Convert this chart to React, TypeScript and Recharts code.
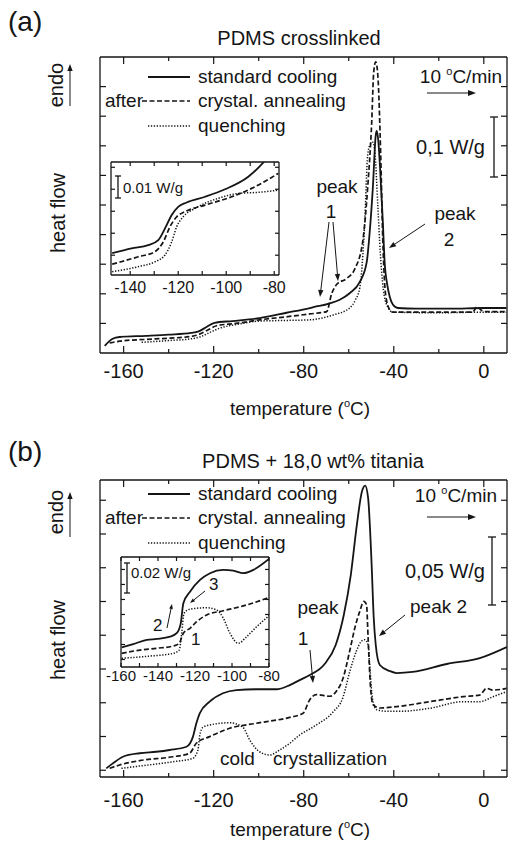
import { ComposedChart, Line, XAxis, YAxis } from "recharts";

// DSC heating scans (10 °C/min) of crosslinked PDMS and of PDMS + 18 wt% titania.
// Every series is [temperature °C, heat flow W/g, shifted for display].

const INK = "#151515";
const FONT = "'Liberation Sans', Arial, Helvetica, sans-serif";

type Row = [number, number];

// ---- panel (a): PDMS crosslinked ----
const aStandard: Row[] = [
  [-168.4, 0.012], [-164.9, 0.024], [-161.8, 0.027], [-150, 0.029], [-140, 0.031],
  [-130, 0.034], [-127, 0.036], [-124, 0.042], [-119.6, 0.051], [-111.6, 0.054],
  [-99.6, 0.059], [-87.6, 0.068], [-77.3, 0.076], [-74, 0.079], [-72.5, 0.08],
  [-68.4, 0.084], [-64, 0.09], [-59.6, 0.101], [-55.1, 0.12], [-52, 0.154],
  [-50.7, 0.204], [-49.3, 0.279], [-48, 0.368], [-47.6, 0.375], [-46.9, 0.36],
  [-46.2, 0.32], [-44.9, 0.225], [-44, 0.15], [-43.1, 0.12], [-41.8, 0.095],
  [-40.4, 0.082], [-38.2, 0.076], [-30, 0.075], [-15, 0.075], [0, 0.076], [10, 0.076],
];
const aAnnealed: Row[] = [
  [-166.2, 0.017], [-161.8, 0.02], [-150, 0.023], [-140, 0.025], [-130, 0.028],
  [-127.6, 0.03], [-123, 0.038], [-118.7, 0.046], [-110, 0.05], [-99.6, 0.056],
  [-88, 0.061], [-77.3, 0.066], [-69.8, 0.07], [-67.6, 0.1], [-65.3, 0.116],
  [-60.9, 0.126], [-57.3, 0.142], [-53.8, 0.188], [-51.6, 0.279], [-49.8, 0.39],
  [-48.9, 0.475], [-48, 0.492], [-47.1, 0.47], [-45.8, 0.334], [-44.9, 0.194],
  [-43.6, 0.098], [-41.8, 0.073], [-40.4, 0.069], [-20, 0.069], [-5, 0.069],
  [-3, 0.078], [-1, 0.072], [1, 0.07], [10, 0.07],
];
const aQuenched: Row[] = [
  [-152, 0.018], [-140, 0.021], [-130, 0.024], [-126.2, 0.027], [-121, 0.036],
  [-117.3, 0.042], [-110, 0.048], [-99.6, 0.054], [-88, 0.055], [-77.3, 0.056],
  [-67.1, 0.064], [-59.6, 0.076], [-57, 0.09], [-55.1, 0.11], [-52.9, 0.221],
  [-51.6, 0.334], [-50.5, 0.352], [-49.3, 0.356], [-48.4, 0.34], [-47.1, 0.25],
  [-46, 0.17], [-45, 0.12], [-43.5, 0.085], [-40.4, 0.069], [-20, 0.068], [0, 0.069],
  [10, 0.069],
];
// inset (a): glass transition region
const aInsetStandard: Row[] = [
  [-147.5, 0.0099], [-139.4, 0.0121], [-132.5, 0.0136], [-128.3, 0.0159], [-125.5, 0.0212],
  [-122.7, 0.0273], [-120, 0.031], [-116.5, 0.033], [-108.8, 0.0356], [-100.5, 0.039],
  [-90.8, 0.0447], [-84.5, 0.0512], [-82, 0.0545], [-78, 0.058],
];
const aInsetAnnealed: Row[] = [
  [-147.5, 0.0049], [-136.6, 0.0083], [-129.7, 0.0106], [-126.2, 0.0151], [-123.4, 0.022],
  [-120.6, 0.0265], [-117.2, 0.0288], [-108.8, 0.0318], [-97.7, 0.0356], [-89.4, 0.0394],
  [-78.3, 0.0462],
];
const aInsetQuenched: Row[] = [
  [-147.5, 0.0015], [-136.6, 0.0038], [-129.7, 0.006], [-125.5, 0.0091], [-122.7, 0.0151],
  [-120.6, 0.022], [-117.9, 0.0265], [-113, 0.0303], [-103.3, 0.0349], [-94.9, 0.0371],
  [-86.6, 0.0376], [-78.3, 0.0386],
];

// ---- panel (b): PDMS + 18,0 wt% titania ----
const bStandard: Row[] = [
  [-167.7, 0.0014], [-164.8, 0.0051], [-160.3, 0.01], [-152.9, 0.0126], [-145.5, 0.0137],
  [-139.6, 0.015], [-132.1, 0.0174], [-129.2, 0.0249], [-127.7, 0.0348], [-126.2, 0.0422],
  [-121.8, 0.0508], [-115.9, 0.057], [-109.9, 0.0594], [-101, 0.06], [-92.1, 0.06],
  [-86.2, 0.0631], [-81.8, 0.0668], [-77.3, 0.0705], [-70.7, 0.0787], [-65.8, 0.0928],
  [-62.2, 0.115], [-59.1, 0.1446], [-56.4, 0.1817], [-54.2, 0.2061], [-52.7, 0.2109],
  [-51.4, 0.2017], [-49.9, 0.155], [-48.9, 0.1128], [-48, 0.0928], [-46.2, 0.078],
  [-41.8, 0.0735], [-38.7, 0.072], [-31.6, 0.0728], [-16.4, 0.0787], [-1.8, 0.0831],
  [10.2, 0.0913],
];
const bAnnealed: Row[] = [
  [-166.2, 0.0014], [-161.8, 0.0039], [-152.9, 0.0071], [-138.1, 0.01], [-130.7, 0.0126],
  [-127.7, 0.02], [-121.8, 0.0249], [-112.9, 0.0311], [-101, 0.0348], [-86.2, 0.0392],
  [-80.3, 0.0422], [-77.3, 0.0523], [-74.4, 0.056], [-68.4, 0.0548], [-65.5, 0.0585],
  [-62.5, 0.0683], [-59.6, 0.0881], [-57.3, 0.1054], [-55.1, 0.1177], [-53.3, 0.1251],
  [-52.1, 0.1226], [-51.4, 0.098], [-50.4, 0.0634], [-49.2, 0.0486], [-46.2, 0.0461],
  [-38.8, 0.0471], [-24, 0.0508], [-9.2, 0.0545], [-1.8, 0.0557], [1.2, 0.0607],
  [4.1, 0.0594], [10.1, 0.0607],
];
const bQuenched: Row[] = [
  [-161, 0.0014], [-152.9, 0.0031], [-138.1, 0.0063], [-129.2, 0.0089], [-127, 0.015],
  [-126.2, 0.0254], [-124.8, 0.0318], [-121.8, 0.0335], [-112.9, 0.0352], [-107, 0.0318],
  [-104, 0.0224], [-99.6, 0.0137], [-95.1, 0.0113], [-90.7, 0.015], [-86.2, 0.02],
  [-81.8, 0.0261], [-74.4, 0.0335], [-67, 0.0431], [-62.5, 0.0543], [-59.6, 0.0728],
  [-56.6, 0.0883], [-54.4, 0.0955], [-52.9, 0.0967], [-51.4, 0.093], [-50.7, 0.0782],
  [-49.5, 0.0535], [-47.7, 0.0449], [-43.2, 0.0437], [-37.3, 0.0437], [-24, 0.0459],
  [-9.2, 0.0508], [-1.8, 0.0508], [4.1, 0.0545], [10.1, 0.0582],
];
// inset (b): glass transition and cold crystallization
const bInsetStandard: Row[] = [
  [-159.6, 0.0131], [-153.4, 0.0153], [-146.1, 0.018], [-140.7, 0.0187], [-133.5, 0.0202],
  [-129.9, 0.0225], [-127.7, 0.0291], [-126.3, 0.0425], [-122.7, 0.0502], [-117.3, 0.058],
  [-111.9, 0.0625], [-104.7, 0.0647], [-99.3, 0.0642], [-93.9, 0.0625], [-88.5, 0.0647],
  [-79.5, 0.0725],
];
const bInsetAnnealed: Row[] = [
  [-159.6, 0.0091], [-149.7, 0.0113], [-140.7, 0.0125], [-131.7, 0.014], [-128.5, 0.0158],
  [-126.3, 0.0225], [-122.7, 0.0258], [-119.1, 0.0302], [-113.7, 0.0347], [-104.7, 0.0375],
  [-93.9, 0.0407], [-79.5, 0.0465],
];
const bInsetQuenched: Row[] = [
  [-159.6, 0.0058], [-144.3, 0.0073], [-131.7, 0.0091], [-128.5, 0.0113], [-127.2, 0.0225],
  [-125.9, 0.0358], [-122.7, 0.0385], [-113.7, 0.0395], [-108.3, 0.038], [-104.7, 0.0325],
  [-101.1, 0.0225], [-96.6, 0.0158], [-92.1, 0.0202], [-86.6, 0.0269], [-79.5, 0.0347],
];

// axis ticks
const mainXTicks = [-160, -140, -120, -100, -80, -60, -40, -20, 0];
const aYTicks = [0.05, 0.1, 0.15, 0.2, 0.25, 0.3, 0.35, 0.4, 0.45];
const bYTicks = [0, 0.025, 0.05, 0.075, 0.1, 0.125, 0.15, 0.175, 0.2];
const aInsetXTicks = [-140, -130, -120, -110, -100, -90, -80];
const bInsetXTicks = [-160, -150, -140, -130, -120, -110, -100, -90, -80];
const aInsetYTicks = [0.009, 0.019, 0.029, 0.039, 0.049];
const bInsetYTicks = [0.005, 0.015, 0.025, 0.035, 0.045, 0.055, 0.065];

const legendLabels = ["standard cooling", "crystal. annealing", "quenching"];

const LINE_STYLES = [
  { strokeWidth: 1.8 },
  { strokeWidth: 1.7, strokeDasharray: "5 2.5" },
  { strokeWidth: 1.5, strokeDasharray: "1.3 1.6" },
];

const toPoints = (rows: Row[]) => rows.map(([t, v]) => ({ t, v }));

type TickOpts = { major: number; minor: number; every: number; fontSize: number; dy: number };

// ticks point into the plot, Origin style
const bottomTick = (o: TickOpts) => (p: any) => {
  const v = p.payload.value;
  const isMajor = Math.abs(v % o.every) < 1e-9;
  return (
    <g>
      <line x1={p.x} x2={p.x} y1={p.y} y2={p.y - (isMajor ? o.major : o.minor)} stroke={INK} strokeWidth={1.2} />
      {isMajor && (
        <text x={p.x} y={p.y + o.dy} textAnchor="middle" fontSize={o.fontSize} fontFamily={FONT} fill={INK}>
          {String(v)}
        </text>
      )}
    </g>
  );
};
const topTick = (o: TickOpts) => (p: any) => {
  const v = p.payload.value;
  const isMajor = Math.abs(v % o.every) < 1e-9;
  return <line x1={p.x} x2={p.x} y1={p.y} y2={p.y + (isMajor ? o.major : o.minor)} stroke={INK} strokeWidth={1.2} />;
};
const sideTick = (len: number, dir: 1 | -1) => (p: any) => (
  <line x1={p.x} x2={p.x + dir * len} y1={p.y} y2={p.y} stroke={INK} strokeWidth={1.2} />
);

type PanelProps = {
  width: number;
  height: number;
  // plot-area edges inside the svg; each axis takes a 1px strip outside them
  plot: { top: number; right: number; bottom: number; left: number };
  xDomain: [number, number];
  yDomain: [number, number];
  xTicks: number[];
  yTicks: number[];
  ticks: TickOpts;
  yLen: number;
  series: Row[][];
};

function DscPanel({ width, height, plot, xDomain, yDomain, xTicks, yTicks, ticks, yLen, series }: PanelProps) {
  const axisLine = { stroke: INK, strokeWidth: 1.3 };
  const margin = { top: plot.top - 1, right: plot.right - 1, bottom: plot.bottom - 1, left: plot.left - 1 };
  return (
    <ComposedChart width={width} height={height} margin={margin}>
      <XAxis xAxisId="b" dataKey="t" type="number" orientation="bottom" domain={xDomain} ticks={xTicks}
        interval={0} height={1} tickSize={0} tickMargin={0} allowDataOverflow axisLine={axisLine}
        tickLine={false} tick={bottomTick(ticks)} />
      <XAxis xAxisId="t" dataKey="t" type="number" orientation="top" domain={xDomain} ticks={xTicks}
        interval={0} height={1} tickSize={0} tickMargin={0} allowDataOverflow axisLine={axisLine}
        tickLine={false} tick={topTick(ticks)} />
      <YAxis yAxisId="l" type="number" orientation="left" domain={yDomain} ticks={yTicks} interval={0}
        width={1} tickSize={0} tickMargin={0} allowDataOverflow axisLine={axisLine} tickLine={false}
        tick={sideTick(yLen, 1)} />
      <YAxis yAxisId="r" type="number" orientation="right" domain={yDomain} ticks={yTicks} interval={0}
        width={1} tickSize={0} tickMargin={0} allowDataOverflow axisLine={axisLine} tickLine={false}
        tick={sideTick(yLen, -1)} />
      {series.map((rows, i) => (
        <Line key={i} xAxisId="b" yAxisId="l" data={toPoints(rows)} dataKey="v" type="monotone"
          stroke={INK} fill="none" dot={false} activeDot={false} isAnimationActive={false}
          {...LINE_STYLES[i]} />
      ))}
    </ComposedChart>
  );
}

function Arrow({ x1, y1, x2, y2, head = 7 }: { x1: number; y1: number; x2: number; y2: number; head?: number }) {
  const a = Math.atan2(y2 - y1, x2 - x1);
  const w = head * 0.38;
  const bx = x2 - head * Math.cos(a);
  const by = y2 - head * Math.sin(a);
  const pts = `${x2},${y2} ${bx - w * Math.sin(a)},${by + w * Math.cos(a)} ${bx + w * Math.sin(a)},${by - w * Math.cos(a)}`;
  return (
    <g>
      <line x1={x1} y1={y1} x2={bx} y2={by} stroke={INK} strokeWidth={1} />
      <polygon points={pts} fill={INK} />
    </g>
  );
}

function T({ x, y, size = 19, anchor = "start", rotate, children }: any) {
  return (
    <text x={x} y={y} fontSize={size} fontFamily={FONT} fill={INK} textAnchor={anchor}
      transform={rotate ? `rotate(${rotate} ${x} ${y})` : undefined}>
      {children}
    </text>
  );
}

function ScaleBar({ x, y1, y2, cap }: { x: number; y1: number; y2: number; cap: number }) {
  return (
    <g stroke={INK} strokeWidth={1.3}>
      <line x1={x} x2={x} y1={y1} y2={y2} />
      <line x1={x - cap} x2={x + cap} y1={y1} y2={y1} />
      <line x1={x - cap} x2={x + cap} y1={y2} y2={y2} />
    </g>
  );
}

// legend, heating-rate note shared by both panels
function PanelDecor({ dy, rateY, rateArrowY, rateRight }: { dy: number; rateY: number; rateArrowY: number; rateRight: number }) {
  return (
    <g>
      <line x1={148} x2={190} y1={77 + dy} y2={77 + dy} stroke={INK} {...LINE_STYLES[0]} />
      <line x1={142} x2={190} y1={101 + dy} y2={101 + dy} stroke={INK} {...LINE_STYLES[1]} />
      <line x1={148} x2={190} y1={126 + dy} y2={126 + dy} stroke={INK} {...LINE_STYLES[2]} />
      <T x={105} y={107 + dy}>after</T>
      {legendLabels.map((s, i) => (
        <T key={s} x={198} y={83 + dy + [0, 24, 49][i]}>{s}</T>
      ))}
      <text x={rateRight} y={rateY} fontSize={19} fontFamily={FONT} fill={INK} textAnchor="end">
        10 <tspan fontSize={11} dy={-8}>o</tspan><tspan dy={8}>C/min</tspan>
      </text>
      <Arrow x1={427} y1={rateArrowY} x2={476} y2={rateArrowY} head={8} />
    </g>
  );
}

function AxisTitle({ y }: { y: number }) {
  return (
    <text x={300} y={y} fontSize={19} fontFamily={FONT} fill={INK} textAnchor="middle">
      temperature (<tspan fontSize={11} dy={-8}>o</tspan><tspan dy={8}>C)</tspan>
    </text>
  );
}

export default function App() {
  const mainTicksA: TickOpts = { major: 7, minor: 4, every: 40, fontSize: 20, dy: 25 };
  const mainTicksB: TickOpts = { major: 7, minor: 4, every: 40, fontSize: 20, dy: 30 };
  const insetTicksA: TickOpts = { major: 4, minor: 4, every: 20, fontSize: 16, dy: 18 };
  const insetTicksB: TickOpts = { major: 4, minor: 4, every: 20, fontSize: 15, dy: 14 };

  return (
    <div style={{ position: "absolute", left: 0, top: 0, width: 508, height: 845, background: "#fff", overflow: "hidden" }}>
      {/* panel (a) */}
      <div style={{ position: "absolute", left: 0, top: 0 }}>
        <DscPanel width={508} height={440} plot={{ top: 57, right: 1, bottom: 87, left: 100 }}
          xDomain={[-170.5, 10.3]} yDomain={[0, 0.5]} xTicks={mainXTicks} yTicks={aYTicks}
          ticks={mainTicksA} yLen={6} series={[aStandard, aAnnealed, aQuenched]} />
      </div>
      <div style={{ position: "absolute", left: 95, top: 150 }}>
        <DscPanel width={200} height={150} plot={{ top: 12, right: 16, bottom: 25, left: 16 }}
          xDomain={[-148, -78]} yDomain={[0, 0.0514]} xTicks={aInsetXTicks} yTicks={aInsetYTicks}
          ticks={insetTicksA} yLen={4} series={[aInsetStandard, aInsetAnnealed, aInsetQuenched]} />
      </div>

      {/* panel (b) */}
      <div style={{ position: "absolute", left: 0, top: 430 }}>
        <DscPanel width={508} height={415} plot={{ top: 50, right: 1, bottom: 68, left: 100 }}
          xDomain={[-170.5, 10.3]} yDomain={[-0.005, 0.215]} xTicks={mainXTicks} yTicks={bYTicks}
          ticks={mainTicksB} yLen={6} series={[bStandard, bAnnealed, bQuenched]} />
      </div>
      <div style={{ position: "absolute", left: 100, top: 545 }}>
        <DscPanel width={185} height={145} plot={{ top: 12, right: 16, bottom: 23, left: 21 }}
          xDomain={[-160, -80]} yDomain={[0, 0.0733]} xTicks={bInsetXTicks} yTicks={bInsetYTicks}
          ticks={insetTicksB} yLen={4} series={[bInsetStandard, bInsetAnnealed, bInsetQuenched]} />
      </div>

      {/* annotations */}
      <svg width={508} height={845} style={{ position: "absolute", left: 0, top: 0, pointerEvents: "none" }}>
        {/* (a) */}
        <T x={8} y={31} size={28}>(a)</T>
        <T x={299} y={45} size={20} anchor="middle">PDMS crosslinked</T>
        <PanelDecor dy={0} rateY={83} rateArrowY={93} rateRight={502} />
        <ScaleBar x={494} y1={117} y2={177} cap={4} />
        <T x={485} y={154} size={20} anchor="end">0,1 W/g</T>
        <T x={337} y={193} anchor="middle">peak</T>
        <T x={331} y={218} anchor="middle">1</T>
        <Arrow x1={329} y1={222} x2={320} y2={297} />
        <Arrow x1={333} y1={222} x2={338} y2={281} />
        <T x={455} y={220} anchor="middle">peak</T>
        <T x={449} y={246} anchor="middle">2</T>
        <Arrow x1={425} y1={224} x2={389} y2={248} />
        <T x={65} y={213} size={20} anchor="middle" rotate={-90}>heat flow</T>
        <T x={63} y={85} size={20} anchor="middle" rotate={-90}>endo</T>
        <Arrow x1={70} y1={106} x2={70} y2={64} head={7} />
        <AxisTitle y={415} />
        <ScaleBar x={118} y1={176} y2={198} cap={3} />
        <T x={123} y={193} size={15}>0.01 W/g</T>

        {/* (b) */}
        <T x={8} y={461} size={28}>(b)</T>
        <T x={313} y={468} size={20} anchor="middle">PDMS + 18,0 wt% titania</T>
        <PanelDecor dy={417} rateY={502} rateArrowY={517} rateRight={497} />
        <ScaleBar x={492} y1={537} y2={605} cap={4} />
        <T x={485} y={578} size={20} anchor="end">0,05 W/g</T>
        <T x={318} y={614} anchor="middle">peak</T>
        <T x={303} y={645} anchor="middle">1</T>
        <Arrow x1={310} y1={650} x2={313} y2={683} />
        <T x={410} y={613}>peak 2</T>
        <Arrow x1={405} y1={615} x2={379} y2={636} />
        <T x={220} y={765}>cold</T>
        <T x={273} y={765}>crystallization</T>
        <T x={65} y={640} size={20} anchor="middle" rotate={-90}>heat flow</T>
        <T x={63} y={512} size={20} anchor="middle" rotate={-90}>endo</T>
        <Arrow x1={70} y1={537} x2={70} y2={492} head={7} />
        <AxisTitle y={836} />
        <ScaleBar x={127} y1={563} y2={593} cap={3} />
        <T x={131} y={578} size={15}>0.02 W/g</T>
        <T x={153} y={631} size={17}>2</T>
        <Arrow x1={167} y1={628} x2={172} y2={604} head={5} />
        <T x={209} y={590} size={17}>3</T>
        <Arrow x1={205} y1={591} x2={190} y2={603} head={5} />
        <T x={191} y={645} size={17}>1</T>
      </svg>
    </div>
  );
}
